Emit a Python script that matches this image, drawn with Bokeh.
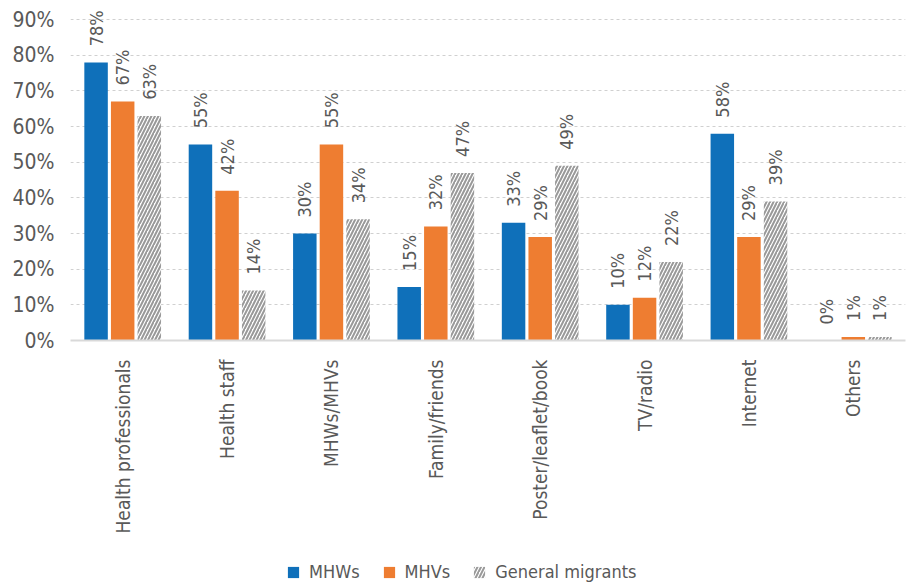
from math import pi

from bokeh.embed import file_html
from bokeh.resources import INLINE
from bokeh.plotting import figure
from bokeh.layouts import column
from bokeh.models import (ColumnDataSource, FactorRange, FixedTicker, Legend,
                          LegendItem, NumeralTickFormatter)
from bokeh.transform import dodge
from bokeh.core.properties import value

categories = ["Health professionals", "Health staff", "MHWs/MHVs", "Family/friends",
              "Poster/leaflet/book", "TV/radio", "Internet", "Others"]
mhws = [78, 55, 30, 15, 33, 10, 58, 0]
mhvs = [67, 42, 55, 32, 29, 12, 29, 1]
general = [63, 14, 34, 47, 49, 22, 39, 1]
y_ticks = [0, 10, 20, 30, 40, 50, 60, 70, 80, 90]
series_names = ["MHWs", "MHVs", "General migrants"]

FONT = "DejaVu Sans Condensed"
TEXT = "#595959"
BLUE = "#0F70BA"
ORANGE = "#EE7D31"
GREY = "#999999"

styles = [dict(fill_color=BLUE, line_color=None),
          dict(fill_color=ORANGE, line_color=None),
          dict(fill_color="white", line_color=None, hatch_pattern="/",
               hatch_color=GREY, hatch_weight=2, hatch_scale=7)]

# value labels sit a little above the end of each bar
LABEL_GAP = 0.045
src = ColumnDataSource(dict(
    cat=categories,
    mhws=[v / 100 for v in mhws],
    mhvs=[v / 100 for v in mhvs],
    gen=[v / 100 for v in general],
    mhws_lbl=[f"{v}%" for v in mhws],
    mhvs_lbl=[f"{v}%" for v in mhvs],
    gen_lbl=[f"{v}%" for v in general],
    mhws_ly=[v / 100 + LABEL_GAP for v in mhws],
    mhvs_ly=[v / 100 + LABEL_GAP for v in mhvs],
    gen_ly=[v / 100 + LABEL_GAP for v in general],
))

# main bar chart
p = figure(frame_width=835, frame_height=338, x_range=FactorRange(*categories),
           y_range=(0, 0.948), output_backend="svg", toolbar_location=None,
           min_border_top=2, min_border_left=70, min_border_right=1,
           min_border_bottom=206, outline_line_color=None)
p.background_fill_color = "white"
p.border_fill_color = "white"

W = 0.225
OFF = 0.255
for off, col, st in zip([-OFF, 0, OFF], ["mhws", "mhvs", "gen"], styles):
    p.vbar(x=dodge("cat", off, range=p.x_range), top=col, width=W, source=src, **st)

for off, ycol, tcol in [(-OFF, "mhws_ly", "mhws_lbl"), (0, "mhvs_ly", "mhvs_lbl"),
                        (OFF, "gen_ly", "gen_lbl")]:
    p.text(x=dodge("cat", off, range=p.x_range), y=ycol, text=tcol, source=src,
           angle=pi / 2, text_align="left", text_baseline="middle",
           text_font=value(FONT), text_font_size="18px", text_color=TEXT)

p.xgrid.grid_line_color = None
p.ygrid.grid_line_color = "#D0D0D0"
p.ygrid.grid_line_dash = "3 3"
p.ygrid.grid_line_width = 1.2

p.yaxis.ticker = FixedTicker(ticks=[t / 100 for t in y_ticks])
p.yaxis.formatter = NumeralTickFormatter(format="0%")
p.yaxis.axis_line_color = None
p.yaxis.major_tick_line_color = None
p.yaxis.minor_tick_line_color = None
p.yaxis.major_label_text_font = FONT
p.yaxis.major_label_text_font_size = "21px"
p.yaxis.major_label_text_color = TEXT
p.yaxis.major_label_standoff = 10

p.xaxis.axis_line_color = "#D9D9D9"
p.xaxis.axis_line_width = 2
p.xaxis.major_tick_line_color = None
p.xaxis.minor_tick_line_color = None
p.xaxis.major_label_orientation = pi / 2
p.xaxis.major_label_text_font = FONT
p.xaxis.major_label_text_font_size = "19px"
p.xaxis.major_label_text_color = TEXT
p.xaxis.major_label_standoff = 13

# legend strip underneath; its swatch glyphs sit outside the visible range
leg = figure(width=906, height=42, output_backend="svg", toolbar_location=None,
             x_range=(0, 1), y_range=(0, 1), min_border=0,
             outline_line_color=None)
leg.axis.visible = False
leg.grid.visible = False
swatch = ColumnDataSource(dict(x=[-5], top=[-5]))
items = []
for name, st in zip(series_names, styles):
    r = leg.vbar(x="x", top="top", width=0.1, source=swatch, **st)
    items.append(LegendItem(label=name, renderers=[r]))
legend = Legend(items=items, orientation="horizontal", location=(216, 6),
                label_text_font=FONT, label_text_font_size="18px",
                label_text_color=TEXT, glyph_width=14, glyph_height=14,
                spacing=22, label_standoff=9, border_line_color=None,
                padding=0, margin=0, background_fill_alpha=0)
leg.add_layout(legend)

layout = column(p, leg, spacing=0)
open("out.html", "w").write(file_html(layout, INLINE))
